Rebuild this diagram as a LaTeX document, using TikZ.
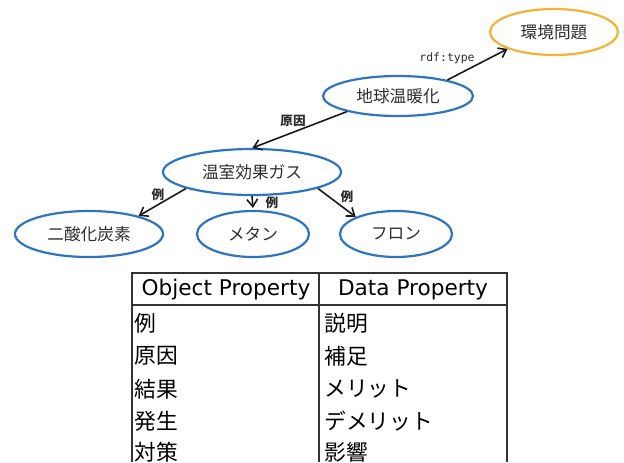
\documentclass[tikz,border=0pt]{standalone}
\usepackage{fontspec}
\setmainfont{Noto Sans CJK JP}
\newfontfamily\monof{DejaVu Sans Mono}
\newfontfamily\latf{DejaVu Sans}
\usetikzlibrary{shapes.geometric,arrows.meta}
\definecolor{eblue}{RGB}{46,117,190}
\definecolor{eorange}{RGB}{244,177,52}
\definecolor{txt}{RGB}{45,45,45}
\tikzset{
  ell/.style={ellipse,draw=eblue,line width=2.2pt*0.75,inner sep=0pt,text=txt,font=\fontsize{12.5}{14}\selectfont},
  oell/.style={ell,draw=eorange},
  rel/.style={draw=black!90,line width=1.6pt*0.75,-{Straight Barb[length=5.5pt,width=8pt,line width=1.2pt]}},
  lab/.style={text=txt,font=\fontsize{9.5}{11}\selectfont\bfseries,inner sep=1pt},
  tline/.style={draw=black!80,line width=1pt},
  ttext/.style={text=black,font=\fontsize{16.3}{18}\selectfont,inner sep=0pt},
  thead/.style={ttext,font=\latf\fontsize{16.2}{18}\selectfont}
}
\begin{document}
\begin{tikzpicture}[x=0.75pt,y=-0.75pt]
\useasboundingbox (0,0) rectangle (624,462);
% nodes
\node[oell,minimum width=128*0.75pt,minimum height=46*0.75pt] (kankyo) at (554,32) {環境問題};
\node[ell,minimum width=150*0.75pt,minimum height=40*0.75pt] (chikyu) at (398,96) {地球温暖化};
\node[ell,minimum width=178*0.75pt,minimum height=46*0.75pt] (gas) at (252,172) {温室効果ガス};
\node[ell,minimum width=148*0.75pt,minimum height=46*0.75pt] (co2) at (89,234) {二酸化炭素};
\node[ell,minimum width=112*0.75pt,minimum height=46*0.75pt] (methane) at (253,234) {メタン};
\node[ell,minimum width=112*0.75pt,minimum height=46*0.75pt] (freon) at (396,234) {フロン};
% connectors
\draw[rel] (chikyu.18) -- (kankyo.200);
\draw[rel] (chikyu.197) -- (gas.89);
\draw[rel] (gas.194) -- (co2.20);
\draw[rel] (gas.270) -- ([yshift=1.5pt]methane.90);
\draw[rel] (gas.346) -- (freon.157);
% labels
\node[text=txt,font=\monof\fontsize{8.6}{10}\selectfont,inner sep=1pt] (lrdf) at (447,58) {rdf:type};
\node[lab] (lcause) at (293,121) {原因};
\node[lab] (lex1) at (158,195) {例};
\node[lab] (lex2) at (272,203) {例};
\node[lab] (lex3) at (347,197) {例};
% table
\coordinate (tl) at (132,273);
\coordinate (tr) at (507,273);
\coordinate (tm) at (319,273);
\coordinate (bl) at (132,462);
\coordinate (br) at (507,462);
\coordinate (bm) at (319,462);
\coordinate (hl) at (132,305);
\coordinate (hr) at (507,305);
\draw[tline] (bl) -- (tl) -- (tr) -- (br);
\draw[tline] (tm) -- (bm);
\draw[tline] (hl) -- (hr);
\node[thead] (h1) at (226,290) {Object Property};
\node[thead] (h2) at (413,290) {Data Property};
\node[ttext,anchor=west] (o1) at (134,323) {例};
\node[ttext,anchor=west] (o2) at (134,356) {原因};
\node[ttext,anchor=west] (o3) at (134,389) {結果};
\node[ttext,anchor=west] (o4) at (134,421) {発生};
\node[ttext,anchor=west] (o5) at (134,452) {対策};
\node[ttext,anchor=west] (d1) at (324,323) {説明};
\node[ttext,anchor=west] (d2) at (324,356) {補足};
\node[ttext,anchor=west] (d3) at (324,389) {メリット};
\node[ttext,anchor=west] (d4) at (324,421) {デメリット};
\node[ttext,anchor=west] (d5) at (324,452) {影響};
\end{tikzpicture}
\end{document}
